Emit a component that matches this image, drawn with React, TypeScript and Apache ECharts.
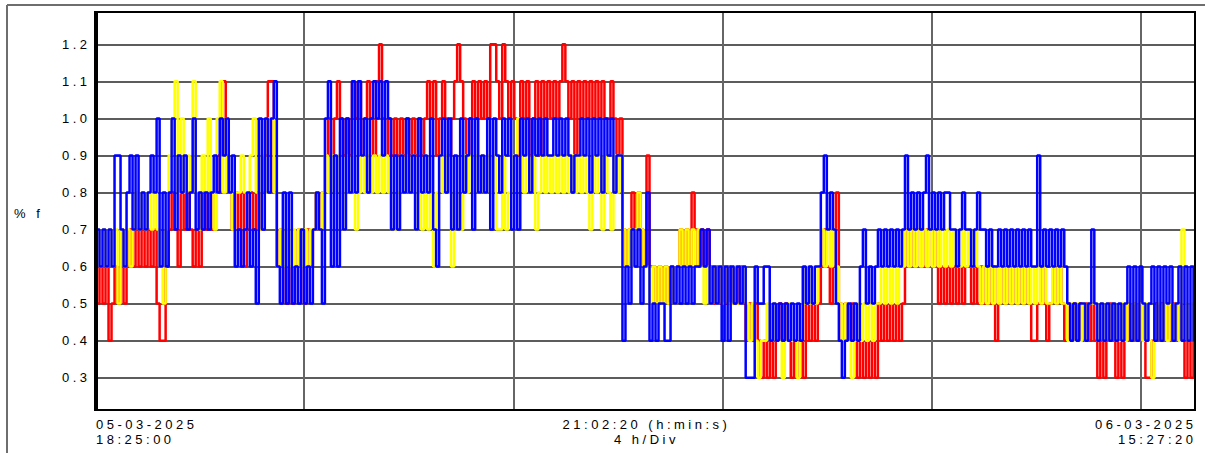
import React, { useEffect, useRef } from "react";
import * as echarts from "echarts";

// Recording span: 05-03-2025 18:25:00 → 06-03-2025 15:27:20 (21:02:20)
const SPAN_HOURS = 21 + 2 / 60 + 20 / 3600;
const DIV_HOURS = 4;
const START_LABEL = ["05-03-2025", "18:25:00"];
const END_LABEL = ["06-03-2025", "15:27:20"];
const SPAN_LABEL = ["21:02:20 (h:min:s)", "4 h/Div"];
const Y_UNIT = "% f";
const Y_TICKS = [0.3, 0.4, 0.5, 0.6, 0.7, 0.8, 0.9, 1.0, 1.1, 1.2];

// Phase values in tenths of a percent, evenly spaced over the recording span
const redTenths = [
  4, 5, 6, 5, 6, 4, 5, 6, 5, 7,
  5, 6, 7, 6, 7, 6, 7, 6, 7, 6,
  7, 5, 4, 4, 6, 7, 8, 7, 6, 8,
  7, 8, 7, 6, 7, 6, 8, 7, 8, 7,
  8, 9, 8, 11, 9, 8, 7, 8, 7, 8,
  6, 7, 8, 7, 8, 7, 8, 9, 11, 11,
  8, 6, 7, 6, 5, 6, 5, 6, 7, 6,
  5, 7, 6, 7, 8, 7, 8, 9, 10, 9,
  10, 11, 10, 9, 10, 9, 11, 10, 11, 9,
  10, 11, 10, 9, 11, 12, 10, 9, 10, 9,
  10, 9, 10, 9, 10, 9, 10, 9, 10, 9,
  10, 11, 10, 11, 9, 10, 11, 10, 9, 10,
  11, 12, 11, 10, 9, 10, 11, 10, 11, 10,
  11, 10, 12, 12, 11, 10, 12, 11, 10, 11,
  10, 9, 11, 10, 11, 9, 10, 11, 9, 11,
  10, 11, 10, 11, 10, 11, 12, 11, 10, 11,
  9, 11, 10, 11, 10, 11, 10, 11, 10, 11,
  10, 10, 11, 10, 9, 10, 7, 6, 7, 8,
  7, 8, 7, 6, 9, 6, 6, 5, 6, 5,
  6, 5, 6, 5, 6, 7, 6, 7, 6, 8,
  7, 6, 7, 6, 7, 6, 5, 6, 5, 6,
  5, 6, 5, 6, 5, 6, 5, 4, 5, 4,
  5, 4, 3, 4, 3, 4, 3, 4, 5, 4,
  5, 4, 3, 4, 3, 4, 3, 5, 4, 5,
  4, 5, 6, 7, 6, 5, 6, 8, 5, 4,
  5, 4, 5, 4, 3, 4, 3, 4, 3, 4,
  3, 5, 4, 5, 4, 5, 4, 5, 4, 5,
  7, 6, 7, 6, 7, 7, 6, 7, 7, 6,
  7, 5, 6, 5, 6, 5, 6, 5, 6, 5,
  6, 6, 5, 6, 5, 6, 5, 6, 5, 6,
  4, 5, 6, 5, 6, 5, 6, 5, 6, 5,
  6, 5, 4, 4, 5, 6, 5, 4, 5, 6,
  5, 6, 5, 4, 5, 4, 5, 4, 5, 4,
  5, 4, 5, 4, 3, 4, 3, 4, 5, 4,
  3, 4, 3, 4, 5, 4, 5, 4, 5, 4,
  3, 3, 4, 5, 4, 5, 4, 5, 4, 5,
  4, 5, 4, 3, 4, 3, 4,
];

const yellowTenths = [
  6, 7, 6, 7, 6, 7, 6, 7, 5, 7,
  6, 7, 6, 7, 8, 7, 8, 7, 8, 7,
  8, 7, 6, 5, 7, 9, 10, 11, 8, 10,
  8, 9, 8, 11, 8, 7, 9, 8, 10, 8,
  7, 10, 11, 8, 10, 8, 7, 8, 8, 9,
  8, 8, 9, 10, 8, 7, 9, 8, 10, 10,
  8, 6, 7, 6, 7, 6, 7, 6, 7, 6,
  7, 6, 7, 7, 8, 7, 8, 9, 8, 9,
  8, 9, 8, 7, 9, 8, 9, 7, 8, 9,
  8, 9, 8, 9, 8, 9, 8, 9, 8, 7,
  7, 8, 9, 8, 9, 8, 9, 7, 8, 7,
  9, 7, 8, 6, 8, 9, 8, 9, 8, 6,
  8, 7, 7, 9, 8, 9, 8, 9, 8, 9,
  8, 9, 8, 9, 7, 7, 9, 7, 8, 9,
  9, 10, 9, 8, 9, 8, 9, 7, 8, 9,
  8, 9, 8, 9, 8, 9, 8, 9, 8, 9,
  8, 9, 8, 9, 8, 7, 9, 8, 9, 7,
  9, 8, 7, 9, 8, 9, 7, 6, 7, 6,
  7, 8, 7, 6, 6, 5, 6, 5, 6, 5,
  6, 5, 6, 5, 6, 7, 6, 7, 6, 7,
  6, 7, 6, 5, 6, 5, 6, 5, 6, 5,
  6, 5, 5, 6, 5, 5, 6, 5, 4, 5,
  4, 3, 4, 4, 5, 4, 5, 4, 4, 3,
  4, 5, 4, 4, 3, 4, 5, 6, 5, 6,
  5, 6, 7, 6, 7, 6, 7, 6, 5, 4,
  5, 4, 3, 4, 5, 4, 5, 4, 5, 4,
  5, 5, 6, 5, 6, 5, 6, 5, 6, 6,
  7, 6, 7, 6, 7, 6, 7, 6, 7, 6,
  7, 6, 7, 6, 7, 6, 7, 6, 6, 7,
  6, 7, 6, 7, 6, 5, 6, 5, 6, 5,
  6, 5, 6, 5, 6, 5, 6, 5, 6, 5,
  6, 5, 6, 5, 6, 5, 6, 5, 5, 6,
  5, 6, 5, 5, 4, 5, 4, 5, 4, 5,
  4, 5, 5, 5, 4, 5, 4, 5, 4, 5,
  4, 4, 5, 4, 5, 4, 5, 4, 5, 4,
  5, 4, 3, 4, 5, 4, 5, 4, 5, 4,
  5, 4, 7, 5, 4, 5, 4,
];

const blueTenths = [
  5, 7, 6, 7, 6, 7, 6, 9, 9, 7,
  6, 8, 9, 7, 9, 7, 8, 7, 8, 9,
  8, 10, 6, 8, 6, 8, 10, 7, 9, 8,
  9, 7, 8, 10, 7, 8, 7, 8, 7, 8,
  9, 8, 10, 9, 10, 8, 9, 6, 7, 6,
  7, 8, 6, 7, 5, 10, 7, 10, 8, 10,
  11, 6, 5, 8, 5, 8, 5, 6, 5, 7,
  5, 6, 5, 7, 8, 7, 5, 10, 11, 6,
  9, 6, 10, 7, 10, 8, 11, 8, 11, 9,
  10, 8, 10, 11, 10, 11, 9, 11, 10, 7,
  9, 7, 9, 8, 10, 8, 9, 7, 10, 8,
  9, 8, 10, 7, 6, 9, 10, 8, 10, 7,
  9, 7, 10, 8, 9, 10, 7, 10, 8, 9,
  8, 10, 7, 10, 9, 8, 10, 9, 10, 7,
  9, 7, 10, 9, 10, 8, 10, 9, 10, 9,
  10, 9, 9, 10, 9, 10, 9, 10, 9, 8,
  9, 9, 10, 9, 10, 8, 10, 9, 10, 8,
  10, 9, 10, 8, 9, 9, 4, 6, 5, 7,
  6, 7, 5, 6, 8, 4, 5, 4, 5, 5,
  4, 4, 6, 5, 6, 5, 6, 5, 6, 5,
  6, 6, 7, 6, 7, 5, 6, 5, 6, 4,
  6, 4, 6, 5, 6, 5, 6, 3, 3, 3,
  6, 5, 5, 6, 6, 4, 5, 4, 5, 4,
  5, 4, 5, 4, 5, 4, 6, 5, 6, 5,
  6, 6, 8, 9, 7, 8, 7, 5, 4, 3,
  4, 5, 4, 5, 4, 6, 7, 5, 6, 5,
  6, 7, 6, 7, 6, 7, 6, 7, 6, 7,
  9, 7, 8, 7, 8, 7, 8, 9, 7, 8,
  7, 8, 7, 8, 8, 7, 7, 6, 7, 8,
  7, 7, 6, 7, 8, 7, 7, 6, 7, 6,
  6, 7, 6, 7, 6, 7, 6, 7, 6, 7,
  6, 7, 6, 6, 9, 6, 7, 6, 7, 6,
  7, 6, 7, 6, 5, 4, 5, 4, 5, 5,
  4, 5, 7, 5, 4, 5, 4, 5, 4, 5,
  4, 5, 4, 5, 6, 4, 6, 4, 6, 5,
  4, 5, 6, 4, 6, 4, 6, 5, 6, 4,
  5, 6, 4, 6, 4, 6, 4,
];

const toPoints = (tenths: number[]) =>
  tenths.map((v, i) => [(i * SPAN_HOURS) / (tenths.length - 1), v / 10]);

const FONT = '"Liberation Sans", Arial, sans-serif';

export default function App() {
  const ref = useRef<HTMLDivElement>(null);

  useEffect(() => {
    document.body.style.margin = "0";
    const el = ref.current!;
    const chart = echarts.init(el, null, { renderer: "svg" });

    // plot frame in pixels
    const left = 95;
    const top = 12;
    const width = 1100;
    const height = 398;
    // value scale: 0.3 sits at y=377.7, 1.2 at y=44.3
    const yHi = 44.3;
    const yLo = 377.7;
    const perTenth = (yLo - yHi) / 9;
    const dataTop = yHi - perTenth; // 1.3
    const dataBottom = yLo + perTenth; // 0.2

    const lineSeries = (name: string, color: string, tenths: number[]) => ({
      name,
      type: "line",
      xAxisIndex: 1,
      yAxisIndex: 1,
      data: toPoints(tenths),
      step: "middle",
      showSymbol: false,
      symbol: "none",
      silent: true,
      lineStyle: { color, width: 2.5 },
      itemStyle: { color },
    });

    const text = (t: string, x: number, y: number, align: string) => ({
      type: "text",
      x,
      y,
      silent: true,
      style: {
        text: t,
        fill: "#000",
        fontSize: 13,
        fontFamily: FONT,
        align,
        verticalAlign: "middle",
      },
    });

    chart.setOption({
      animation: false,
      backgroundColor: "#fff",
      grid: [
        { left, top, width, height, containLabel: false },
        {
          left,
          top: dataTop,
          width,
          height: dataBottom - dataTop,
          containLabel: false,
        },
      ],
      xAxis: [
        {
          type: "value",
          gridIndex: 0,
          min: 0,
          max: SPAN_HOURS,
          interval: DIV_HOURS,
          axisLine: { show: false },
          axisTick: { show: false },
          axisLabel: { show: false },
          splitLine: { show: true, lineStyle: { color: "#666", width: 2 } },
        },
        {
          type: "value",
          gridIndex: 1,
          min: 0,
          max: SPAN_HOURS,
          show: false,
        },
      ],
      yAxis: [
        { type: "value", gridIndex: 0, min: 0, max: 1, show: false },
        {
          type: "value",
          gridIndex: 1,
          min: 0.2,
          max: 1.3,
          interval: 0.1,
          axisLine: { show: false },
          axisTick: { show: false },
          axisLabel: {
            show: true,
            showMinLabel: false,
            showMaxLabel: false,
            margin: 4.5,
            color: "#000",
            fontSize: 13,
            fontFamily: FONT,
            formatter: (v: number) => {
              const r = Math.round(v * 10) / 10;
              return Y_TICKS.includes(r) ? r.toFixed(1) : "";
            },
          },
          splitLine: {
            show: true,
            showMinLine: false,
            showMaxLine: false,
            lineStyle: { color: "#5c5c5c", width: 2 },
          },
        },
      ],
      series: [
        lineSeries("L1", "#ff0000", redTenths),
        lineSeries("L2", "#ffff00", yellowTenths),
        lineSeries("L3", "#0000ff", blueTenths),
      ],
      graphic: [
        // outer panel frame
        {
          type: "line",
          silent: true,
          shape: { x1: 7, y1: 5, x2: 1205, y2: 5 },
          style: { stroke: "#6e6e6e", lineWidth: 2 },
        },
        {
          type: "line",
          silent: true,
          shape: { x1: 7, y1: 5, x2: 7, y2: 453 },
          style: { stroke: "#6e6e6e", lineWidth: 2 },
        },
        // plot border
        {
          type: "rect",
          silent: true,
          z: 100,
          shape: { x: left, y: top, width, height },
          style: { fill: "none", stroke: "#000", lineWidth: 2 },
        },
        {
          type: "line",
          silent: true,
          z: 101,
          shape: { x1: left + 1, y1: top - 1, x2: left + 1, y2: top + height + 1 },
          style: { stroke: "#000", lineWidth: 4 },
        },
        text(Y_UNIT, 14, 213, "left"),
        text(START_LABEL[0], 96, 424.5, "left"),
        text(START_LABEL[1], 96, 439.5, "left"),
        text(SPAN_LABEL[0], 646.5, 424.5, "center"),
        text(SPAN_LABEL[1], 646.5, 439.5, "center"),
        text(END_LABEL[0], 1196.5, 424.5, "right"),
        text(END_LABEL[1], 1196.5, 439.5, "right"),
      ],
    });

    // wide character spacing of the instrument font
    const spaceText = () => {
      el.querySelectorAll("text").forEach((t) => {
        (t as SVGTextElement).style.letterSpacing = "3.5px";
      });
    };
    spaceText();
    chart.on("finished", spaceText);
    const raf = requestAnimationFrame(spaceText);

    return () => {
      cancelAnimationFrame(raf);
      chart.dispose();
    };
  }, []);

  return <div ref={ref} style={{ width: 1205, height: 453 }} />;
}
